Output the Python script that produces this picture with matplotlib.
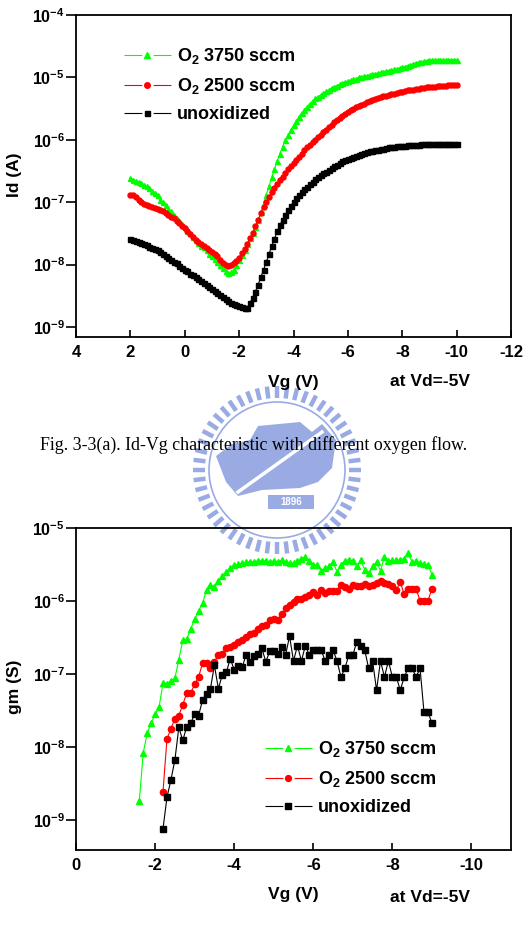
import numpy as np
import matplotlib
matplotlib.use('Agg')
import matplotlib.pyplot as plt
from matplotlib.ticker import FixedLocator, FuncFormatter, NullLocator
from matplotlib.patches import Polygon, Rectangle, Circle
from matplotlib.lines import Line2D

plt.rcParams['font.family'] = 'Liberation Sans'
plt.rcParams['font.weight'] = 'bold'
plt.rcParams['mathtext.fontset'] = 'custom'
plt.rcParams['mathtext.rm'] = 'Liberation Sans:bold'
plt.rcParams['mathtext.it'] = 'Liberation Sans:bold'
plt.rcParams['mathtext.bf'] = 'Liberation Sans:bold'
plt.rcParams['axes.unicode_minus'] = False
plt.rcParams['lines.scale_dashes'] = False

# ---------------- Id-Vg data (Vg sweep 2 V -> -10 V, 0.1 V step) ----------------
vg_id = np.round(np.arange(20, -101, -1) * 0.1, 1)

id_3750 = [2.4e-7, 2.3e-7, 2.2e-7, 2.1e-7, 2.0e-7, 1.9e-7, 1.8e-7, 1.7e-7, 1.5e-7, 1.4e-7,
           1.3e-7, 1.1e-7, 1.0e-7, 8.9e-8, 7.9e-8, 7.1e-8, 6.3e-8, 5.6e-8, 5.0e-8, 4.5e-8,
           4.0e-8, 3.5e-8, 3.2e-8, 2.8e-8, 2.5e-8, 2.2e-8, 2.0e-8, 1.9e-8, 1.7e-8, 1.5e-8,
           1.35e-8, 1.23e-8, 1.1e-8, 9.8e-9, 8.7e-9, 7.8e-9, 7.4e-9, 7.6e-9, 8.3e-9, 1.0e-8,
           1.2e-8, 1.45e-8, 1.74e-8, 2.14e-8, 2.63e-8, 3.2e-8, 4.0e-8, 5.1e-8, 6.9e-8, 9.5e-8,
           1.32e-7, 1.82e-7, 2.5e-7, 3.4e-7, 4.6e-7, 6.0e-7, 7.8e-7, 9.8e-7, 1.2e-6, 1.45e-6,
           1.7e-6, 2.0e-6, 2.34e-6, 2.7e-6, 3.0e-6, 3.4e-6, 3.8e-6, 4.2e-6, 4.6e-6, 4.9e-6,
           5.2e-6, 5.6e-6, 6.0e-6, 6.3e-6, 6.8e-6, 7.1e-6, 7.4e-6, 7.8e-6, 8.1e-6, 8.5e-6,
           8.7e-6, 9.1e-6, 9.3e-6, 9.5e-6, 1.0e-5, 1.02e-5, 1.05e-5, 1.07e-5, 1.1e-5, 1.12e-5,
           1.15e-5, 1.17e-5, 1.2e-5, 1.23e-5, 1.26e-5, 1.29e-5, 1.32e-5, 1.35e-5, 1.38e-5, 1.41e-5,
           1.45e-5, 1.48e-5, 1.55e-5, 1.58e-5, 1.66e-5, 1.7e-5, 1.74e-5, 1.78e-5, 1.82e-5, 1.86e-5,
           1.9e-5, 1.9e-5, 1.92e-5, 1.9e-5, 1.91e-5, 1.92e-5, 1.9e-5, 1.91e-5, 1.9e-5, 1.92e-5,
           1.9e-5]

id_2500 = [1.32e-7, 1.29e-7, 1.2e-7, 1.07e-7, 1.0e-7, 9.5e-8, 9.1e-8, 8.7e-8, 8.5e-8, 8.1e-8,
           7.9e-8, 7.6e-8, 7.2e-8, 6.8e-8, 6.3e-8, 5.9e-8, 5.5e-8, 5.0e-8, 4.6e-8, 4.2e-8,
           3.8e-8, 3.5e-8, 3.1e-8, 2.75e-8, 2.5e-8, 2.3e-8, 2.14e-8, 2.0e-8, 1.86e-8, 1.74e-8,
           1.62e-8, 1.48e-8, 1.35e-8, 1.2e-8, 1.07e-8, 9.8e-9, 9.5e-9, 9.8e-9, 1.05e-8, 1.15e-8,
           1.29e-8, 1.51e-8, 1.78e-8, 2.14e-8, 2.63e-8, 3.2e-8, 4.1e-8, 5.2e-8, 6.8e-8, 8.3e-8,
           1.0e-7, 1.2e-7, 1.45e-7, 1.7e-7, 1.95e-7, 2.24e-7, 2.57e-7, 2.95e-7, 3.4e-7, 3.8e-7,
           4.3e-7, 4.8e-7, 5.4e-7, 6.0e-7, 6.8e-7, 7.6e-7, 8.3e-7, 9.1e-7, 1.0e-6, 1.1e-6,
           1.2e-6, 1.32e-6, 1.45e-6, 1.58e-6, 1.74e-6, 1.9e-6, 2.1e-6, 2.24e-6, 2.4e-6, 2.57e-6,
           2.75e-6, 2.95e-6, 3.1e-6, 3.3e-6, 3.5e-6, 3.6e-6, 3.8e-6, 4.0e-6, 4.2e-6, 4.4e-6,
           4.5e-6, 4.7e-6, 4.8e-6, 5.0e-6, 5.1e-6, 5.2e-6, 5.4e-6, 5.5e-6, 5.6e-6, 5.75e-6,
           5.9e-6, 6.0e-6, 6.2e-6, 6.3e-6, 6.35e-6, 6.5e-6, 6.6e-6, 6.8e-6, 6.8e-6, 6.9e-6,
           6.95e-6, 7.1e-6, 7.1e-6, 7.2e-6, 7.25e-6, 7.4e-6, 7.4e-6, 7.45e-6, 7.6e-6, 7.6e-6,
           7.6e-6]

id_unox = [2.57e-8, 2.5e-8, 2.4e-8, 2.34e-8, 2.24e-8, 2.14e-8, 2.04e-8, 1.95e-8, 1.86e-8, 1.78e-8,
           1.7e-8, 1.58e-8, 1.48e-8, 1.38e-8, 1.29e-8, 1.2e-8, 1.12e-8, 1.05e-8, 9.5e-9, 8.9e-9,
           8.3e-9, 7.8e-9, 7.2e-9, 6.8e-9, 6.3e-9, 5.9e-9, 5.5e-9, 5.0e-9, 4.7e-9, 4.4e-9,
           4.1e-9, 3.8e-9, 3.55e-9, 3.2e-9, 3.0e-9, 2.8e-9, 2.6e-9, 2.45e-9, 2.34e-9, 2.24e-9,
           2.14e-9, 2.09e-9, 2.0e-9, 2.04e-9, 2.4e-9, 2.95e-9, 3.7e-9, 4.8e-9, 6.3e-9, 8.3e-9,
           1.1e-8, 1.48e-8, 2.0e-8, 2.6e-8, 3.4e-8, 4.3e-8, 5.2e-8, 6.3e-8, 7.4e-8, 8.7e-8,
           1.0e-7, 1.15e-7, 1.29e-7, 1.45e-7, 1.62e-7, 1.78e-7, 1.95e-7, 2.14e-7, 2.34e-7, 2.5e-7,
           2.7e-7, 2.9e-7, 3.1e-7, 3.3e-7, 3.55e-7, 3.8e-7, 4.0e-7, 4.2e-7, 4.5e-7, 4.7e-7,
           4.9e-7, 5.1e-7, 5.4e-7, 5.5e-7, 5.75e-7, 5.9e-7, 6.2e-7, 6.3e-7, 6.5e-7, 6.6e-7,
           6.8e-7, 6.9e-7, 7.1e-7, 7.2e-7, 7.4e-7, 7.6e-7, 7.6e-7, 7.8e-7, 7.9e-7, 7.95e-7,
           8.1e-7, 8.1e-7, 8.15e-7, 8.3e-7, 8.3e-7, 8.35e-7, 8.4e-7, 8.5e-7, 8.5e-7, 8.5e-7,
           8.5e-7, 8.5e-7, 8.5e-7, 8.5e-7, 8.5e-7, 8.5e-7, 8.5e-7, 8.5e-7, 8.5e-7, 8.5e-7,
           8.5e-7]

# ---------------- gm-Vg data ----------------
vg_gm_3750 = np.round(np.arange(-16, -91, -1) * 0.1, 1)
gm_3750 = [1.82e-9, 8.3e-9, 1.55e-8, 2.14e-8, 2.8e-8, 3.5e-8, 7.6e-8, 7.4e-8, 8.1e-8, 8.7e-8,
           1.58e-7, 2.9e-7, 3.0e-7, 4.2e-7, 5.6e-7, 7.4e-7, 9.3e-7, 1.41e-6, 1.66e-6, 1.55e-6,
           1.86e-6, 2.19e-6, 2.5e-6, 2.8e-6, 3.1e-6, 3.2e-6, 3.3e-6, 3.4e-6, 3.45e-6, 3.45e-6,
           3.55e-6, 3.55e-6, 3.55e-6, 3.45e-6, 3.55e-6, 3.45e-6, 3.6e-6, 3.45e-6, 3.3e-6, 3.3e-6,
           3.55e-6, 3.8e-6, 4.0e-6, 3.55e-6, 3.16e-6, 3.1e-6, 2.6e-6, 2.8e-6, 3.0e-6, 3.45e-6,
           2.5e-6, 3.16e-6, 3.55e-6, 3.7e-6, 3.55e-6, 3.0e-6, 3.6e-6, 2.7e-6, 2.4e-6, 3.0e-6,
           3.4e-6, 2.6e-6, 4.0e-6, 3.55e-6, 3.6e-6, 3.6e-6, 3.7e-6, 3.8e-6, 4.5e-6, 3.4e-6,
           3.55e-6, 3.3e-6, 3.2e-6, 3.16e-6, 2.3e-6]

vg_gm = np.round(np.arange(-22, -91, -1) * 0.1, 1)
gm_2500 = [2.45e-9, 1.29e-8, 1.78e-8, 2.45e-8, 2.7e-8, 3.8e-8, 5.5e-8, 5.5e-8, 7.2e-8, 9.1e-8,
           1.41e-7, 1.41e-7, 1.2e-7, 1.48e-7, 1.82e-7, 1.86e-7, 2.24e-7, 2.34e-7, 2.5e-7, 2.75e-7,
           2.9e-7, 3.2e-7, 3.55e-7, 3.7e-7, 4.1e-7, 4.5e-7, 4.7e-7, 5.5e-7, 5.75e-7, 5.5e-7,
           6.6e-7, 7.9e-7, 8.7e-7, 9.8e-7, 1.05e-6, 1.07e-6, 1.12e-6, 1.2e-6, 1.32e-6, 1.2e-6,
           1.41e-6, 1.29e-6, 1.35e-6, 1.35e-6, 1.38e-6, 1.66e-6, 1.55e-6, 1.48e-6, 1.66e-6, 1.62e-6,
           1.62e-6, 1.7e-6, 1.62e-6, 1.66e-6, 1.74e-6, 1.9e-6, 1.78e-6, 1.7e-6, 1.62e-6, 1.41e-6,
           1.82e-6, 1.23e-6, 1.48e-6, 1.48e-6, 1.48e-6, 1.0e-6, 1.0e-6, 1.0e-6, 1.48e-6]

gm_unox = [7.6e-10, 2.04e-9, 3.55e-9, 6.6e-9, 1.86e-8, 1.23e-8, 1.9e-8, 2.14e-8, 2.8e-8, 2.7e-8,
           4.4e-8, 5.4e-8, 6.3e-8, 1.32e-7, 6.3e-8, 9.8e-8, 1.05e-7, 1.62e-7, 1.15e-7, 1.29e-7,
           1.23e-7, 1.82e-7, 1.48e-7, 1.74e-7, 1.86e-7, 2.24e-7, 1.48e-7, 2.04e-7, 2.1e-7, 1.86e-7,
           2.34e-7, 1.82e-7, 3.3e-7, 1.51e-7, 2.45e-7, 1.51e-7, 2.45e-7, 1.82e-7, 2.14e-7, 2.14e-7,
           2.14e-7, 1.51e-7, 1.82e-7, 2.14e-7, 1.51e-7, 9.1e-8, 1.2e-7, 1.82e-7, 1.82e-7, 2.75e-7,
           2.45e-7, 2.14e-7, 1.2e-7, 1.51e-7, 6.0e-8, 1.51e-7, 9.1e-8, 1.51e-7, 9.1e-8, 9.1e-8,
           6.0e-8, 9.1e-8, 1.2e-7, 1.2e-7, 9.1e-8, 1.2e-7, 3.0e-8, 3.0e-8, 2.14e-8]

labels = [r'O$_2$ 3750 sccm', r'O$_2$ 2500 sccm', 'unoxidized']
colors = ['#00ff00', '#ff0000', '#000000']
markers = ['^', 'o', 's']

W, H = 525, 936
fig = plt.figure(figsize=(W / 100, H / 100), dpi=100)


def fx(x):
    return x / W


def fy(y):
    return 1 - y / H


# light blue university watermark behind everything
bg = fig.add_axes([0, 0, 1, 1], zorder=-1)
bg.set_xlim(0, W)
bg.set_ylim(H, 0)
bg.axis('off')
logo_c = '#9aabe4'
cx, cy = 277, 470
for a in np.linspace(0, 2 * np.pi, 52, endpoint=False):
    bg.plot([cx + 72 * np.cos(a), cx + 84 * np.cos(a)],
            [cy + 72 * np.sin(a), cy + 84 * np.sin(a)],
            color=logo_c, lw=3.2, solid_capstyle='butt')
bg.add_patch(Circle((cx, cy), 68, fill=False, ec=logo_c, lw=1.2))
body = [(216, 456), (232, 444), (250, 440), (258, 426), (300, 422), (312, 432),
        (322, 424), (336, 440), (332, 468), (318, 482), (300, 488), (262, 490),
        (238, 496), (226, 482)]
bg.add_patch(Polygon(body, closed=True, fc=logo_c, ec='none'))
bg.plot([238, 322], [492, 432], color='white', lw=2.5)
bg.add_patch(Rectangle((268, 495), 46, 14, fc=logo_c, ec='none'))
bg.text(291, 502, '1896', color='white', fontsize=7, ha='center', va='center')


def style_axes(ax, xticks, yticks):
    ax.set_facecolor('none')
    ax.set_yscale('log')
    ax.xaxis.set_major_locator(FixedLocator(xticks))
    ax.yaxis.set_major_locator(FixedLocator(yticks))
    ax.yaxis.set_minor_locator(NullLocator())
    ax.xaxis.set_major_formatter(FuncFormatter(lambda v, p: '%d' % v))
    ax.yaxis.set_major_formatter(
        FuncFormatter(lambda v, p: '10$^{%d}$' % int(round(np.log10(v)))))
    ax.tick_params(axis='x', direction='in', length=5, width=1.2, pad=6, labelsize=12)
    ax.tick_params(axis='y', direction='out', length=7, width=1.2, pad=1, labelsize=11.5)
    for s in ax.spines.values():
        s.set_linewidth(1.3)


# Origin-style legend keys: line - gap - marker - gap - line
hl = 2.6 * 13  # handle length in points
def legend_keys(ms_list):
    return [Line2D([], [], color=c, marker=m, ms=s, mec=c, lw=0.8,
                   linestyle=(0, (0.38 * hl, 0.24 * hl)))
            for c, m, s in zip(colors, markers, ms_list)]


# ---------------- top: Id-Vg ----------------
ax1 = fig.add_axes([fx(76), fy(337), fx(435), 322 / H])
for yv, c, m, lab in zip([id_3750, id_2500, id_unox], colors, markers, labels):
    ax1.plot(vg_id, yv, color=c, marker=m, ms=3.6, lw=0.8, mec=c, label=lab)
ax1.set_xlim(4, -12)
ax1.set_ylim(10 ** -9.16, 1e-4)
style_axes(ax1, [4, 2, 0, -2, -4, -6, -8, -10, -12], [1e-9, 1e-8, 1e-7, 1e-6, 1e-5, 1e-4])
ax1.legend(legend_keys([4, 4, 3.6]), labels,
           loc='upper left', bbox_to_anchor=(fx(124), fy(46)), bbox_transform=fig.transFigure,
           frameon=False, fontsize=13, handlelength=2.6, handletextpad=0.35,
           labelspacing=0.55, borderpad=0, borderaxespad=0)

fig.text(fx(14), fy(175), 'Id (A)', rotation=90, ha='center', va='center', fontsize=12.5)
fig.text(fx(293), fy(382), 'Vg (V)', ha='center', va='center', fontsize=12.5)
fig.text(fx(430), fy(382), 'at Vd=-5V', ha='center', va='center', fontsize=12.5)

fig.text(fx(254), fy(445), 'Fig. 3-3(a). Id-Vg characteristic with different oxygen flow.',
         ha='center', va='center', fontsize=12.9, family='Liberation Serif', weight='normal')

# ---------------- bottom: gm-Vg ----------------
ax2 = fig.add_axes([fx(76), fy(850), fx(435), 322 / H])
ax2.plot(vg_gm_3750, gm_3750, color=colors[0], marker='^', ms=5, lw=0.8, label=labels[0])
ax2.plot(vg_gm, gm_2500, color=colors[1], marker='o', ms=4.5, lw=0.8, label=labels[1])
ax2.plot(vg_gm, gm_unox, color=colors[2], marker='s', ms=4, lw=0.8, label=labels[2])
ax2.set_xlim(0, -11)
ax2.set_ylim(10 ** -9.41, 1e-5)
style_axes(ax2, [0, -2, -4, -6, -8, -10], [1e-9, 1e-8, 1e-7, 1e-6, 1e-5])
ax2.legend(legend_keys([4.5, 4.2, 3.8]), labels,
           loc='upper left', bbox_to_anchor=(fx(265), fy(739)), bbox_transform=fig.transFigure,
           frameon=False, fontsize=13, handlelength=2.6, handletextpad=0.35,
           labelspacing=0.55, borderpad=0, borderaxespad=0)

fig.text(fx(14), fy(687), 'gm (S)', rotation=90, ha='center', va='center', fontsize=12.5)
fig.text(fx(293), fy(895), 'Vg (V)', ha='center', va='center', fontsize=12.5)
fig.text(fx(430), fy(897), 'at Vd=-5V', ha='center', va='center', fontsize=12.5)

fig.savefig('out.png', dpi=100)
